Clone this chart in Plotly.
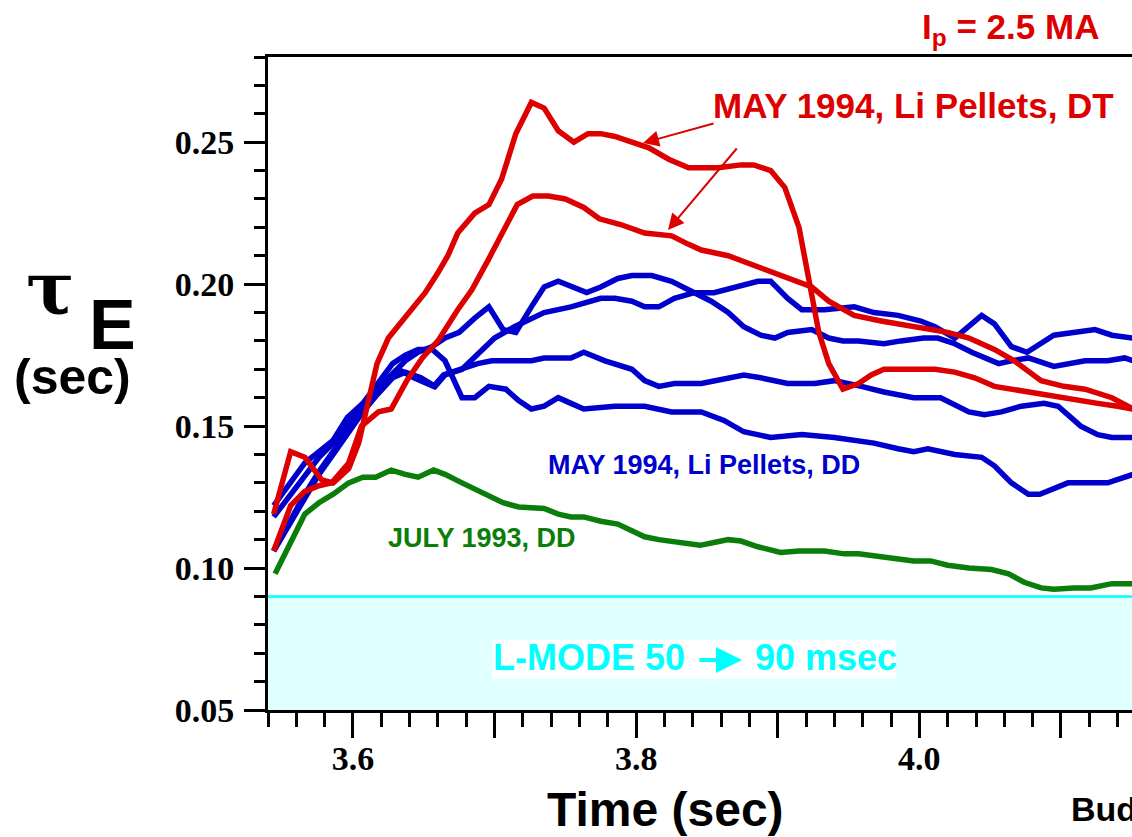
import plotly.graph_objects as go

# ---------------- data ----------------
t_dt1 = [3.544, 3.556, 3.566, 3.573, 3.578, 3.586, 3.597, 3.604, 3.609, 3.617, 3.625, 3.636, 3.651, 3.660, 3.667,
         3.674, 3.686, 3.696, 3.705, 3.715, 3.726, 3.735, 3.745, 3.756, 3.766, 3.775, 3.785, 3.797, 3.809, 3.823,
         3.837, 3.846, 3.858, 3.874, 3.883, 3.895, 3.905, 3.915, 3.922, 3.929, 3.936, 3.946, 3.957, 3.966, 3.975,
         3.987, 3.999, 4.011, 4.025, 4.039, 4.053, 4.065, 4.079, 4.098, 4.114, 4.126, 4.140, 4.151]
tau_dt1 = [0.119, 0.141, 0.139, 0.134, 0.131, 0.130, 0.135, 0.144, 0.155, 0.172, 0.181, 0.188, 0.197, 0.204, 0.210,
           0.218, 0.225, 0.228, 0.237, 0.253, 0.264, 0.262, 0.254, 0.250, 0.253, 0.253, 0.252, 0.250, 0.248, 0.244,
           0.241, 0.241, 0.241, 0.242, 0.242, 0.240, 0.234, 0.220, 0.201, 0.183, 0.172, 0.163, 0.165, 0.168, 0.170,
           0.170, 0.170, 0.170, 0.169, 0.167, 0.164, 0.163, 0.162, 0.160, 0.159, 0.158, 0.157, 0.156]

t_dt2 = [3.544, 3.556, 3.566, 3.576, 3.585, 3.597, 3.606, 3.618, 3.627, 3.638, 3.649, 3.660, 3.674, 3.684, 3.696,
         3.708, 3.716, 3.727, 3.738, 3.750, 3.763, 3.774, 3.789, 3.806, 3.825, 3.837, 3.846, 3.865, 3.886, 3.902,
         3.924, 3.936, 3.954, 3.973, 3.996, 4.020, 4.035, 4.053, 4.067, 4.077, 4.086, 4.102, 4.117, 4.136, 4.151]
tau_dt2 = [0.106, 0.122, 0.127, 0.129, 0.130, 0.137, 0.150, 0.155, 0.156, 0.166, 0.174, 0.180, 0.191, 0.198, 0.209,
           0.220, 0.228, 0.231, 0.231, 0.230, 0.227, 0.223, 0.221, 0.218, 0.217, 0.214, 0.212, 0.210, 0.206, 0.203,
           0.199, 0.194, 0.189, 0.187, 0.185, 0.183, 0.181, 0.177, 0.173, 0.169, 0.166, 0.164, 0.163, 0.160, 0.156]

t_dd1 = [3.544, 3.556, 3.566, 3.576, 3.586, 3.597, 3.607, 3.617, 3.628, 3.637, 3.648, 3.658, 3.665, 3.677, 3.688,
         3.700, 3.714, 3.726, 3.735, 3.754, 3.766, 3.775, 3.785, 3.797, 3.806, 3.816, 3.827, 3.841, 3.855, 3.869,
         3.886, 3.895, 3.907, 3.917, 3.933, 3.954, 3.968, 3.985, 4.001, 4.011, 4.025, 4.044, 4.053, 4.065, 4.076,
         4.095, 4.107, 4.124, 4.136, 4.151]
tau_dd1 = [0.106, 0.116, 0.125, 0.133, 0.140, 0.148, 0.155, 0.161, 0.167, 0.169, 0.167, 0.164, 0.168, 0.170, 0.175,
           0.181, 0.185, 0.188, 0.190, 0.192, 0.194, 0.195, 0.195, 0.194, 0.192, 0.192, 0.195, 0.197, 0.197, 0.199,
           0.201, 0.201, 0.195, 0.191, 0.191, 0.192, 0.190, 0.189, 0.187, 0.185, 0.181, 0.189, 0.186, 0.178, 0.176,
           0.182, 0.183, 0.184, 0.182, 0.181]

t_dd2 = [3.544, 3.556, 3.566, 3.576, 3.586, 3.597, 3.607, 3.617, 3.627, 3.637, 3.646, 3.656, 3.665, 3.675, 3.686,
         3.696, 3.706, 3.715, 3.726, 3.735, 3.745, 3.754, 3.765, 3.775, 3.787, 3.797, 3.811, 3.825, 3.837, 3.853,
         3.865, 3.876, 3.888, 3.898, 3.907, 3.924, 3.936, 3.946, 3.957, 3.975, 3.987, 4.003, 4.013, 4.025, 4.037,
         4.046, 4.056, 4.065, 4.077, 4.095, 4.107, 4.117, 4.133, 4.145, 4.151]
tau_dd2 = [0.118, 0.126, 0.133, 0.139, 0.144, 0.151, 0.157, 0.163, 0.168, 0.173, 0.176, 0.178, 0.181, 0.183, 0.188,
           0.192, 0.184, 0.183, 0.192, 0.199, 0.201, 0.199, 0.197, 0.199, 0.202, 0.203, 0.203, 0.201, 0.198, 0.194,
           0.190, 0.185, 0.182, 0.181, 0.183, 0.184, 0.181, 0.180, 0.180, 0.179, 0.180, 0.181, 0.181, 0.179, 0.176,
           0.174, 0.172, 0.173, 0.174, 0.171, 0.172, 0.173, 0.173, 0.174, 0.173]

t_dd3 = [3.544, 3.556, 3.566, 3.576, 3.586, 3.597, 3.607, 3.617, 3.632, 3.643, 3.657, 3.664, 3.676, 3.688, 3.698,
         3.712, 3.726, 3.735, 3.754, 3.763, 3.778, 3.797, 3.806, 3.816, 3.827, 3.846, 3.865, 3.876, 3.888, 3.907,
         3.926, 3.940, 3.959, 3.975, 3.996, 4.015, 4.035, 4.046, 4.058, 4.072, 4.088, 4.098, 4.114, 4.126, 4.136,
         4.151]
tau_dd3 = [0.106, 0.117, 0.126, 0.134, 0.141, 0.149, 0.156, 0.162, 0.170, 0.167, 0.164, 0.168, 0.170, 0.172, 0.173,
           0.173, 0.173, 0.174, 0.174, 0.176, 0.173, 0.170, 0.166, 0.164, 0.165, 0.165, 0.167, 0.168, 0.167, 0.165,
           0.165, 0.166, 0.164, 0.162, 0.160, 0.160, 0.155, 0.154, 0.155, 0.157, 0.158, 0.157, 0.150, 0.147, 0.146,
           0.146]

t_dd4 = [3.544, 3.556, 3.566, 3.576, 3.586, 3.596, 3.607, 3.616, 3.628, 3.637, 3.646, 3.656, 3.665, 3.677, 3.686,
         3.696, 3.708, 3.717, 3.726, 3.735, 3.745, 3.754, 3.763, 3.785, 3.806, 3.825, 3.846, 3.862, 3.876, 3.895,
         3.917, 3.940, 3.954, 3.968, 3.985, 3.996, 4.006, 4.025, 4.044, 4.053, 4.065, 4.077, 4.085, 4.095, 4.105,
         4.121, 4.133, 4.151]
tau_dd4 = [0.122, 0.130, 0.137, 0.141, 0.145, 0.153, 0.158, 0.164, 0.172, 0.175, 0.177, 0.177, 0.173, 0.160, 0.160,
           0.164, 0.163, 0.159, 0.156, 0.157, 0.160, 0.158, 0.156, 0.157, 0.157, 0.155, 0.155, 0.152, 0.148, 0.146,
           0.147, 0.146, 0.145, 0.144, 0.142, 0.141, 0.142, 0.140, 0.139, 0.136, 0.130, 0.126, 0.126, 0.128, 0.130,
           0.130, 0.130, 0.133]

t_jul93 = [3.545, 3.556, 3.566, 3.576, 3.586, 3.597, 3.607, 3.616, 3.627, 3.637, 3.646, 3.657, 3.665, 3.677, 3.689,
           3.698, 3.706, 3.717, 3.728, 3.735, 3.745, 3.754, 3.763, 3.775, 3.787, 3.797, 3.806, 3.816, 3.825, 3.834,
           3.845, 3.855, 3.865, 3.874, 3.886, 3.902, 3.915, 3.933, 3.947, 3.957, 3.973, 3.987, 3.996, 4.008, 4.020,
           4.035, 4.051, 4.063, 4.074, 4.086, 4.095, 4.109, 4.121, 4.136, 4.151]
tau_jul93 = [0.098, 0.109, 0.119, 0.123, 0.126, 0.130, 0.132, 0.132, 0.1345, 0.133, 0.132, 0.1345, 0.133, 0.130, 0.127,
             0.125, 0.123, 0.1215, 0.121, 0.121, 0.119, 0.118, 0.118, 0.1165, 0.1155, 0.113, 0.111, 0.110, 0.1095, 0.109,
             0.108, 0.109, 0.110, 0.1095, 0.1075, 0.1055, 0.106, 0.106, 0.105, 0.105, 0.104, 0.103, 0.1025, 0.1025, 0.101,
             0.100, 0.0995, 0.098, 0.095, 0.093, 0.0925, 0.093, 0.093, 0.0945, 0.0945]

lmode_band = [0.05, 0.09]
x_tickvals = [3.6, 3.7, 3.8, 3.9, 4.0, 4.1]
x_ticktext = ["3.6", "", "3.8", "", "4.0", ""]
y_tickvals = [0.05, 0.10, 0.15, 0.20, 0.25]
y_ticktext = ["0.05", "0.10", "0.15", "0.20", "0.25"]

# ---------------- style ----------------
RED = "#dd0000"
BLUE = "#0000cc"
GREEN = "#0a7d0a"
CYAN = "#00ffff"
LIGHTCYAN = "#e0ffff"
SANS = "Liberation Sans"
SERIF = "Liberation Serif"

W, H = 1132, 837
L, R, T, B = 268, 0, 57, 127
PW, PH = W - L - R, H - T - B


def PX(x):
    return (x - L) / PW


def PY(y):
    return (H - B - y) / PH


fig = go.Figure()

def add_line(t, v, color):
    fig.add_trace(go.Scatter(x=t, y=v, mode="lines",
                             line=dict(color=color, width=5.5, shape="linear"),
                             showlegend=False, hoverinfo="skip"))

add_line(t_jul93, tau_jul93, GREEN)
for tt, vv in [(t_dd1, tau_dd1), (t_dd2, tau_dd2), (t_dd3, tau_dd3), (t_dd4, tau_dd4)]:
    add_line(tt, vv, BLUE)
add_line(t_dt2, tau_dt2, RED)
add_line(t_dt1, tau_dt1, RED)

shapes = [
    dict(type="rect", xref="paper", yref="y", x0=0, x1=1, y0=lmode_band[0], y1=lmode_band[1],
         fillcolor=LIGHTCYAN, line=dict(width=0), layer="below"),
    dict(type="line", xref="paper", yref="y", x0=0, x1=1, y0=lmode_band[1], y1=lmode_band[1],
         line=dict(color=CYAN, width=2.5), layer="below"),
    dict(type="rect", xref="paper", yref="paper", x0=PX(492), x1=PX(896), y0=PY(679), y1=PY(640),
         fillcolor="white", line=dict(width=0), layer="below"),
]

def txt(text, x, y, size, color, family=SANS, xanchor="left", weight="bold"):
    return dict(text=text, x=PX(x), y=PY(y), xref="paper", yref="paper", showarrow=False,
                xanchor=xanchor, yanchor="middle",
                font=dict(family=family, size=size, color=color, weight=weight))

annotations = [
    txt("I<sub>p</sub> = 2.5 MA", 920, 29, 35, RED),
    txt("MAY 1994, Li Pellets, DT", 711, 105, 35, RED),
    txt("MAY 1994, Li Pellets, DD", 546, 465, 27, BLUE),
    txt("JULY 1993, DD", 386, 538, 27, GREEN),
    txt("L-MODE 50", 491, 657, 36, CYAN),
    txt("90 msec", 753, 657, 36, CYAN),
    txt("Time (sec)", 665, 810, 48, "black", xanchor="center"),
    txt("Bud", 1069, 809, 34, "black"),
    txt("τ", 50, 288, 72, "black", family="DejaVu Serif", xanchor="center", weight="bold"),
    txt("E", 112, 325, 70, "black", xanchor="center"),
    txt("(sec)", 72, 377, 50, "black", xanchor="center"),
    # arrows
    dict(x=PX(643), y=PY(143), xref="paper", yref="paper", ax=72, ay=-20, text="", showarrow=True,
         arrowhead=2, arrowsize=1.6, arrowwidth=2, arrowcolor=RED, standoff=0),
    dict(x=PX(668), y=PY(230), xref="paper", yref="paper", ax=70, ay=-83, text="", showarrow=True,
         arrowhead=2, arrowsize=1.6, arrowwidth=2, arrowcolor=RED, standoff=0),
    dict(x=PX(742), y=PY(660), xref="paper", yref="paper", ax=-44, ay=0, text="", showarrow=True,
         arrowhead=2, arrowsize=1.3, arrowwidth=4, arrowcolor=CYAN, standoff=0),
]

fig.update_layout(
    width=W, height=H, autosize=False,
    margin=dict(l=L, r=R, t=T, b=B, pad=0),
    plot_bgcolor="white", paper_bgcolor="white",
    shapes=shapes, annotations=annotations,
    xaxis=dict(range=[3.54, 3.54 + PW / 1416.0], showgrid=False, zeroline=False,
               showline=True, linecolor="black", linewidth=3, mirror=True,
               tickmode="array", tickvals=x_tickvals, ticktext=x_ticktext,
               ticks="outside", ticklen=25, tickwidth=3, tickcolor="black",
               ticklabelstandoff=-9,
               tickfont=dict(family=SERIF, size=34, color="black", weight="bold"),
               minor=dict(tickmode="linear", tick0=3.54, dtick=0.02, ticks="outside",
                          ticklen=14, tickwidth=3, tickcolor="black", showgrid=False)),
    yaxis=dict(range=[0.05, 0.28], showgrid=False, zeroline=False,
               showline=True, linecolor="black", linewidth=3, mirror=False,
               tickmode="array", tickvals=y_tickvals, ticktext=y_ticktext,
               ticks="outside", ticklen=21, tickwidth=3, tickcolor="black",
               ticklabelstandoff=3,
               tickfont=dict(family=SERIF, size=34, color="black", weight="bold"),
               minor=dict(tickmode="linear", tick0=0.05, dtick=0.01, ticks="outside",
                          ticklen=11, tickwidth=3, tickcolor="black", showgrid=False)),
)

fig.write_html("out.html")
